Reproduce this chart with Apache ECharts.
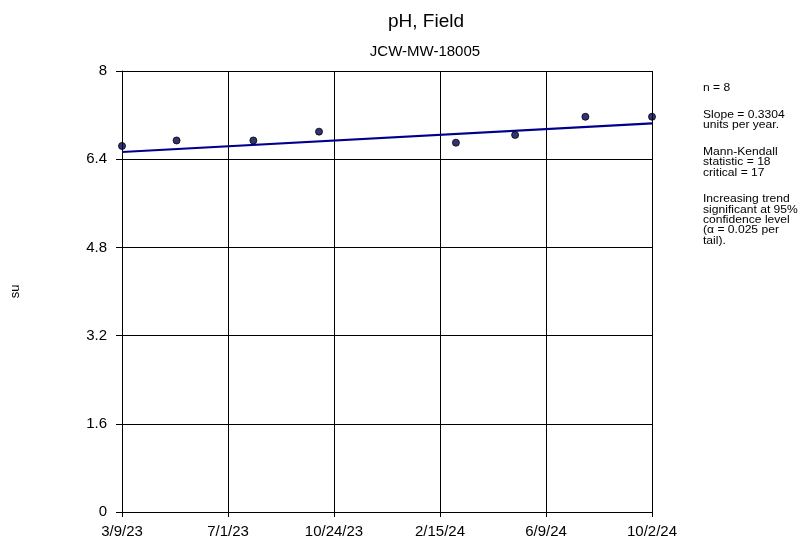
<!DOCTYPE html>
<html>
<head>
<meta charset="utf-8">
<script src="https://cdn.jsdelivr.net/npm/echarts@6/dist/echarts.min.js"></script>
<style>html,body{margin:0;padding:0;background:#fff;}#c{width:800px;height:544px;}</style>
</head>
<body>
<div id="c"></div>
<script>
// ---- data ----
const sampleDates = ['2023-03-09','2023-05-07','2023-07-29','2023-10-08','2024-03-04','2024-05-07','2024-07-22','2024-10-02'];
const phValues = [6.64, 6.74, 6.74, 6.90, 6.70, 6.84, 7.17, 7.17];
const axisStartDate = '2023-03-09';
const axisEndDate = '2024-10-02';
const yTicks = [0, 1.6, 3.2, 4.8, 6.4, 8];
const slopePerYear = 0.3304;
const titleText = 'pH, Field';
const subtitleText = 'JCW-MW-18005';
const yAxisName = 'su';
const noteBlocks = [
  ['n = 8'],
  ['Slope = 0.3304', 'units per year.'],
  ['Mann-Kendall', 'statistic = 18', 'critical = 17'],
  ['Increasing trend', 'significant at 95%', 'confidence level', '(\u03b1 = 0.025 per', 'tail).']
];

// ---- helpers ----
const DAY = 86400000;
const t0 = Date.parse(axisStartDate + 'T00:00:00Z');
const toDays = s => (Date.parse(s + 'T00:00:00Z') - t0) / DAY;
const xMax = toDays(axisEndDate);
const xDays = sampleDates.map(toDays);
const fmtDate = v => {
  const d = new Date(t0 + Math.floor(v + 1e-6) * DAY);
  return (d.getUTCMonth() + 1) + '/' + d.getUTCDate() + '/' + String(d.getUTCFullYear()).slice(2);
};
const median = a => { const s = a.slice().sort((p, q) => p - q); const m = s.length >> 1; return s.length % 2 ? s[m] : (s[m - 1] + s[m]) / 2; };
const slopePerDay = slopePerYear / 365.25;
const intercept = median(phValues) - slopePerDay * median(xDays);
const trendData = [[0, intercept], [xMax, intercept + slopePerDay * xMax]];
const scatterData = xDays.map((x, i) => [x, phValues[i]]);

// ---- notes graphic ----
const FONT = '"Liberation Sans", Arial, sans-serif';
const notes = [];
let yPos = 88.3;
noteBlocks.forEach((blk) => {
  blk.forEach((line) => {
    notes.push({
      type: 'text', x: 703, y: yPos, scaleX: 1.1, originX: 0, originY: 0,
      style: { text: line, fill: '#000', font: '11px ' + FONT, verticalAlign: 'middle', align: 'left' }
    });
    yPos += 10.35;
  });
  yPos += 16.3;
});

const chart = echarts.init(document.getElementById('c'), null, { renderer: 'canvas' });
chart.setOption({
  animation: false,
  backgroundColor: '#fff',
  title: [
    { text: titleText, left: 421, top: 7, textAlign: 'center',
      textStyle: { fontFamily: FONT, fontSize: 19, fontWeight: 'normal', color: '#000' } },
    { text: subtitleText, left: 420, top: 39, textAlign: 'center',
      textStyle: { fontFamily: FONT, fontSize: 15, fontWeight: 'normal', color: '#000' } }
  ],
  grid: { left: 122, right: 148, top: 71, bottom: 32, containLabel: false },
  xAxis: {
    type: 'value', min: 0, max: xMax, interval: xMax / 5,
    axisLine: { show: true, lineStyle: { color: '#000', width: 1 } },
    axisTick: { show: true, length: 5, lineStyle: { color: '#000' } },
    axisLabel: { formatter: fmtDate, fontFamily: FONT, fontSize: 15, color: '#000', margin: 12, showMinLabel: true, showMaxLabel: true },
    splitLine: { show: true, lineStyle: { color: '#000', width: 1 } }
  },
  yAxis: {
    type: 'value', min: yTicks[0], max: yTicks[yTicks.length - 1], interval: yTicks[1] - yTicks[0],
    name: yAxisName, nameLocation: 'middle', nameGap: 100,
    nameTextStyle: { fontFamily: FONT, fontSize: 13, color: '#000' },
    axisLine: { show: true, lineStyle: { color: '#000', width: 1 } },
    axisTick: { show: true, length: 6, lineStyle: { color: '#000' } },
    axisLabel: { formatter: v => String(+v.toFixed(1)), fontFamily: FONT, fontSize: 15, color: '#000', margin: 15 },
    splitLine: { show: true, lineStyle: { color: '#000', width: 1 } }
  },
  series: [
    { type: 'line', data: trendData, symbol: 'none', silent: true,
      lineStyle: { color: '#00008c', width: 2.2 }, z: 2 },
    { type: 'scatter', data: scatterData, symbol: 'circle', symbolSize: 7, clip: false,
      itemStyle: { color: '#000050', borderColor: '#000', borderWidth: 1 }, z: 3 }
  ],
  graphic: notes
});
</script>
</body>
</html>
